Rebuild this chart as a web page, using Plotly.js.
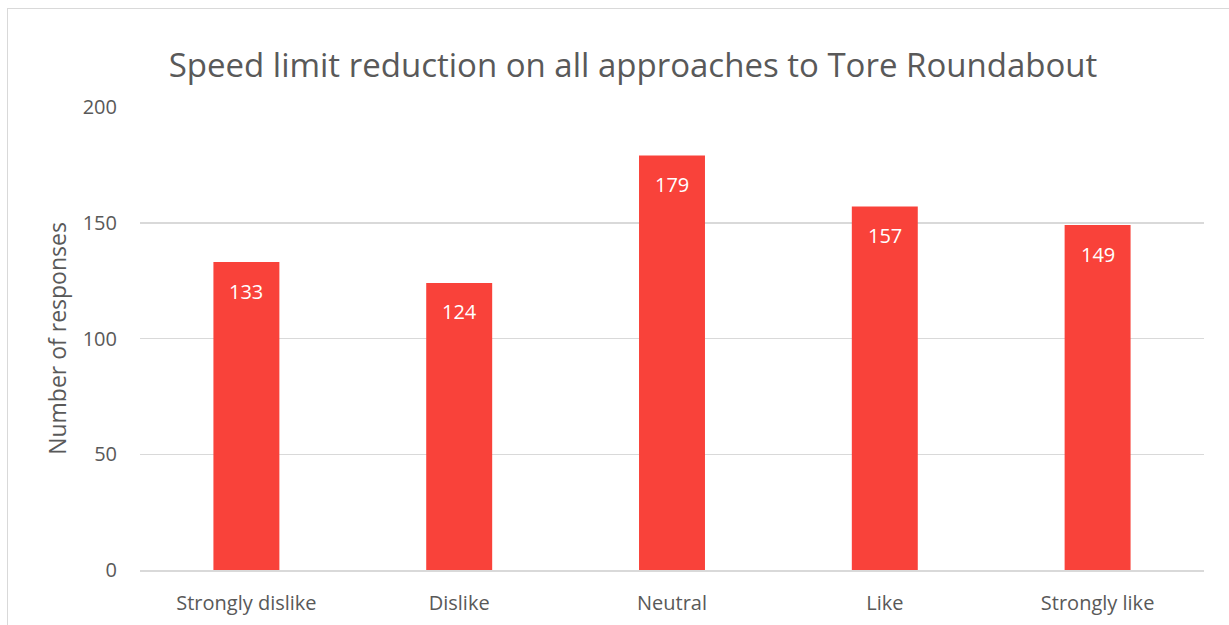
<!DOCTYPE html>
<html><head><meta charset="utf-8">
<script src="https://cdn.plot.ly/plotly-3.0.1.min.js"></script>
<style>
html,body{margin:0;padding:0;background:#fff;overflow:hidden;}
#frame{position:absolute;left:7px;top:8px;width:1300px;height:700px;border:1.5px solid #d9d9d9;box-sizing:border-box;pointer-events:none;z-index:5;}
#chart{position:absolute;left:0;top:0;width:1229px;height:625px;}
</style></head>
<body>
<div id="chart"></div>
<div id="frame"></div>
<script>
const categories = ["Strongly dislike", "Dislike", "Neutral", "Like", "Strongly like"];
const responses = [133, 124, 179, 157, 149];
const yTicks = [0, 50, 100, 150, 200];

const font = "'Open Sans', sans-serif";
const grey = "#595959";

const labels = categories.map((c, i) => ({
  x: c, y: responses[i], xref: "x", yref: "y",
  text: String(responses[i]), showarrow: false,
  yanchor: "middle", yshift: -29,
  font: {family: font, size: 20, color: "#ffffff"}
}));

Plotly.newPlot("chart", [{
  type: "bar",
  x: categories,
  y: responses,
  marker: {color: "#F9423A"},
  width: 0.31,
  hoverinfo: "none"
}], {
  width: 1229, height: 625,
  margin: {l: 140, r: 25, t: 107, b: 55},
  paper_bgcolor: "#fff", plot_bgcolor: "#fff",
  showlegend: false,
  annotations: labels,
  title: {text: "Speed limit reduction on all approaches to Tore Roundabout",
    font: {family: font, size: 33, color: grey},
    x: 633/1229, xanchor: "center", xref: "container",
    y: 1 - 65/625, yanchor: "middle", yref: "container"},
  xaxis: {
    tickfont: {family: font, size: 20, color: grey},
    showgrid: false, zeroline: false,
    showline: true, linecolor: "#d9d9d9", linewidth: 1.5,
    ticks: "", ticklabelstandoff: 14
  },
  yaxis: {
    range: [0, 200], tickvals: yTicks,
    tickfont: {family: font, size: 20, color: grey},
    gridcolor: "#d9d9d9", gridwidth: 1.5,
    zeroline: false, showline: false, ticks: "",
    ticklabelstandoff: 22,
    title: {text: "Number of responses", font: {family: font, size: 23, color: grey}, standoff: 9}
  },
  font: {family: font, color: grey}
}, {staticPlot: true, displayModeBar: false});
</script>
</body></html>
